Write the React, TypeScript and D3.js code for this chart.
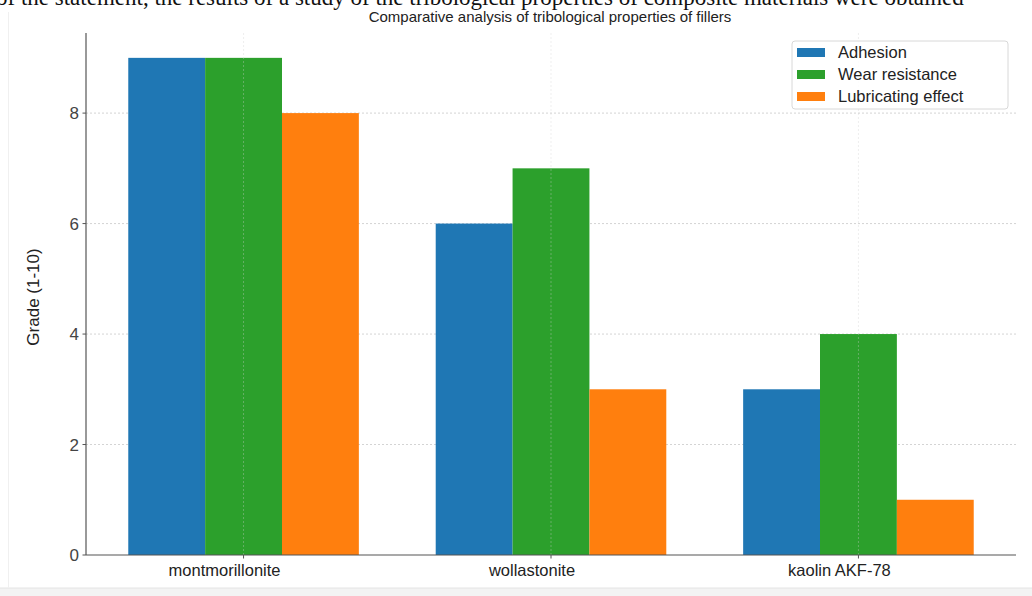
import React from "react";
import * as d3 from "d3";

const categories = ["montmorillonite", "wollastonite", "kaolin AKF-78"];
const seriesNames = ["Adhesion", "Wear resistance", "Lubricating effect"];
const adhesion = [9, 6, 3];
const wearResistance = [9, 7, 4];
const lubricatingEffect = [8, 3, 1];
const yTicks = [0, 2, 4, 6, 8];
const colors = ["#1f77b4", "#2ca02c", "#ff7f0e"];

const W = 1032;
const H = 596;
const left = 86;
const right = 1016;
const top = 33;
const bottom = 555;

export default function App() {
  const series = [adhesion, wearResistance, lubricatingEffect];
  const barW = 0.25;
  const x = d3.scaleLinear().domain([-0.5125, 2.5125]).range([left, right]);
  const y = d3.scaleLinear().domain([0, 9.45]).range([bottom, top]);
  const font = "'Liberation Sans', Arial, sans-serif";

  return (
    <svg width={W} height={H} style={{ position: "absolute", left: 0, top: 0 }} fontFamily={font}>
      <rect x={0} y={0} width={W} height={H} fill="#ffffff" />
      <rect x={0} y={588} width={W} height={8} fill="#f3f3f3" />
      <line x1={0} x2={W} y1={588} y2={588} stroke="#e4e4e4" />
      <line x1={8.5} x2={8.5} y1={12} y2={588} stroke="#f0f0f0" />
      {/* cut-off text from the page above */}
      <text x={-4} y={5} fontFamily="'Liberation Serif', 'Times New Roman', serif" fontSize={23} fill="#111">
        of the statement, the results of a study of the tribological properties of composite materials were obtained
      </text>

      {/* horizontal grid */}
      {yTicks.slice(1).map((t) => (
        <line key={"hg" + t} x1={left} x2={right} y1={y(t)} y2={y(t)} stroke="#c8c8c8" strokeDasharray="2,2" strokeWidth={0.8} />
      ))}

      {/* bars */}
      {series.map((vals, j) =>
        vals.map((v, i) => {
          const cx = i + (j - 1) * barW;
          const x0 = x(cx - barW / 2);
          const x1 = x(cx + barW / 2);
          return (
            <rect key={`b${j}-${i}`} x={x0} y={y(v)} width={x1 - x0} height={y(0) - y(v)} fill={colors[j]} />
          );
        })
      )}

      {/* vertical grid (faint, on top) */}
      {categories.map((c, i) => (
        <line key={"vg" + i} x1={x(i)} x2={x(i)} y1={top} y2={bottom} stroke="#d0d0d0" strokeOpacity={0.45} strokeDasharray="2,2" strokeWidth={0.8} />
      ))}

      {/* axes */}
      <line x1={left} x2={left} y1={top} y2={bottom} stroke="#555" strokeWidth={1.2} />
      <line x1={left} x2={right} y1={bottom} y2={bottom} stroke="#555" strokeWidth={1.2} />
      {yTicks.map((t) => (
        <g key={"yt" + t}>
          <line x1={left - 3.5} x2={left} y1={y(t)} y2={y(t)} stroke="#555" />
          <text x={left - 7} y={y(t)} dy="0.36em" textAnchor="end" fontSize={17} fill="#444">
            {t}
          </text>
        </g>
      ))}
      {categories.map((c, i) => (
        <g key={"xt" + i}>
          <line x1={x(i)} x2={x(i)} y1={bottom} y2={bottom + 3.5} stroke="#555" />
          <text x={x(i) - 19} y={576} textAnchor="middle" fontSize={16.5} fill="#222">
            {c}
          </text>
        </g>
      ))}

      {/* y label */}
      <text transform={`translate(39, ${(top + bottom) / 2 + 3}) rotate(-90)`} textAnchor="middle" fontSize={17} fill="#222">
        Grade (1-10)
      </text>

      {/* title */}
      <text x={(left + right) / 2 - 1} y={22} textAnchor="middle" fontSize={15} fill="#222">
        Comparative analysis of tribological properties of fillers
      </text>

      {/* legend */}
      <rect x={792} y={41} width={216} height={68} fill="#fff" fillOpacity={0.85} stroke="#d8d8d8" rx={3} />
      {seriesNames.map((s, j) => (
        <g key={"lg" + j}>
          <rect x={797} y={48 + j * 22} width={28} height={9} fill={colors[j]} />
          <text x={838} y={52.5 + j * 22} dy="0.35em" fontSize={16.5} fill="#222">
            {s}
          </text>
        </g>
      ))}
    </svg>
  );
}
